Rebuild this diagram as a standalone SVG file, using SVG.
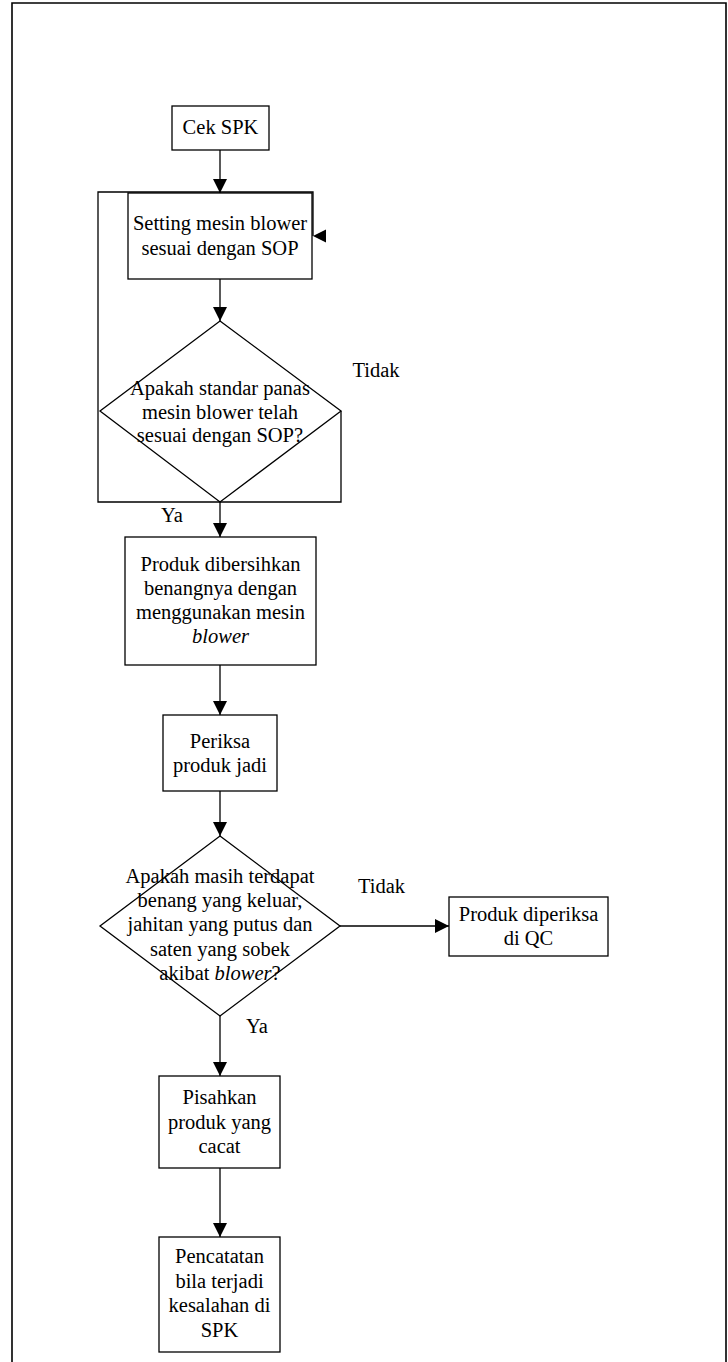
<svg xmlns="http://www.w3.org/2000/svg" width="728" height="1362" viewBox="0 0 728 1362">
  <defs>
    <style>
      .box { fill: #ffffff; stroke: #000000; stroke-width: 1.3; }
      .line { fill: none; stroke: #000000; stroke-width: 1.3; }
      .frame { fill: none; stroke: #000000; stroke-width: 1.6; }
      text { font-family: "Liberation Serif", "Times New Roman", serif; font-size: 20.5px; fill: #000000; }
      .c { text-anchor: middle; }
      .i { font-style: italic; }
    </style>
    <marker id="arrow" viewBox="0 0 14 14" refX="14" refY="7" markerWidth="14" markerHeight="14" markerUnits="userSpaceOnUse" orient="auto">
      <path d="M0,0 L14,7 L0,14 Z" fill="#000000"/>
    </marker>
  </defs>

  <!-- page frame -->
  <path class="frame" d="M12,1362 V3 H726 V1362"/>

  <!-- connectors -->
  <g id="connectors">
    <line class="line" x1="220" y1="150" x2="220" y2="193" marker-end="url(#arrow)"/>
    <line class="line" x1="220" y1="279" x2="220" y2="321" marker-end="url(#arrow)"/>
    <!-- "Tidak" loop back to the setting step -->
    <polyline class="line" points="341,411 341,502 98,502 98,192 313,192 313,236"/>
    <path d="M313,236 L326,229.5 L326,242.5 Z" fill="#000000"/>
    <line class="line" x1="220" y1="502" x2="220" y2="537" marker-end="url(#arrow)"/>
    <line class="line" x1="220" y1="665" x2="220" y2="715" marker-end="url(#arrow)"/>
    <line class="line" x1="220" y1="791" x2="220" y2="836" marker-end="url(#arrow)"/>
    <line class="line" x1="340" y1="926" x2="449" y2="926" marker-end="url(#arrow)"/>
    <line class="line" x1="220" y1="1016" x2="220" y2="1076" marker-end="url(#arrow)"/>
    <line class="line" x1="220" y1="1168" x2="220" y2="1237" marker-end="url(#arrow)"/>
    <text x="352.5" y="377">Tidak</text>
    <text x="161" y="522">Ya</text>
    <text x="358" y="893">Tidak</text>
    <text x="246" y="1033">Ya</text>
  </g>

  <g id="cek-spk">
    <rect class="box" x="172" y="106" width="97" height="44"/>
    <text class="c" x="220.5" y="134">Cek SPK</text>
  </g>

  <g id="setting-mesin">
    <rect class="box" x="128" y="193" width="184" height="86"/>
    <text class="c" x="220" y="230">Setting mesin blower</text>
    <text class="c" x="220" y="255">sesuai dengan SOP</text>
  </g>

  <g id="cek-standar-panas">
    <polygon class="box" points="220,321 341,411 220,502 100,411" fill-opacity="0"/>
    <text class="c" x="220" y="395">Apakah standar panas</text>
    <text class="c" x="220" y="418.5">mesin blower telah</text>
    <text class="c" x="220" y="442">sesuai dengan SOP?</text>
  </g>

  <g id="bersihkan-benang">
    <rect class="box" x="125" y="537" width="191" height="128"/>
    <text class="c" x="220.5" y="571">Produk dibersihkan</text>
    <text class="c" x="220.5" y="595">benangnya dengan</text>
    <text class="c" x="220.5" y="619">menggunakan mesin</text>
    <text class="c i" x="220.5" y="643">blower</text>
  </g>

  <g id="periksa-produk">
    <rect class="box" x="163" y="715" width="114" height="76"/>
    <text class="c" x="220" y="748">Periksa</text>
    <text class="c" x="220" y="772">produk jadi</text>
  </g>

  <g id="cek-cacat">
    <polygon class="box" points="220,836 340,926 220,1016 100,926" fill-opacity="0"/>
    <text class="c" x="220" y="882.5">Apakah masih terdapat</text>
    <text class="c" x="220" y="906.5">benang yang keluar,</text>
    <text class="c" x="220" y="931">jahitan yang putus dan</text>
    <text class="c" x="220" y="955.5">saten yang sobek</text>
    <text class="c" x="220" y="980">akibat <tspan class="i">blower</tspan>?</text>
  </g>

  <g id="periksa-qc">
    <rect class="box" x="449" y="897" width="159" height="59"/>
    <text class="c" x="528.5" y="921">Produk diperiksa</text>
    <text class="c" x="528.5" y="945">di QC</text>
  </g>

  <g id="pisahkan-cacat">
    <rect class="box" x="159" y="1076" width="121" height="92"/>
    <text class="c" x="219.5" y="1104">Pisahkan</text>
    <text class="c" x="219.5" y="1128.5">produk yang</text>
    <text class="c" x="219.5" y="1153">cacat</text>
  </g>

  <g id="pencatatan">
    <rect class="box" x="159" y="1237" width="121" height="115"/>
    <text class="c" x="219.5" y="1263">Pencatatan</text>
    <text class="c" x="219.5" y="1287.5">bila terjadi</text>
    <text class="c" x="219.5" y="1312">kesalahan di</text>
    <text class="c" x="219.5" y="1336.5">SPK</text>
  </g>
</svg>
